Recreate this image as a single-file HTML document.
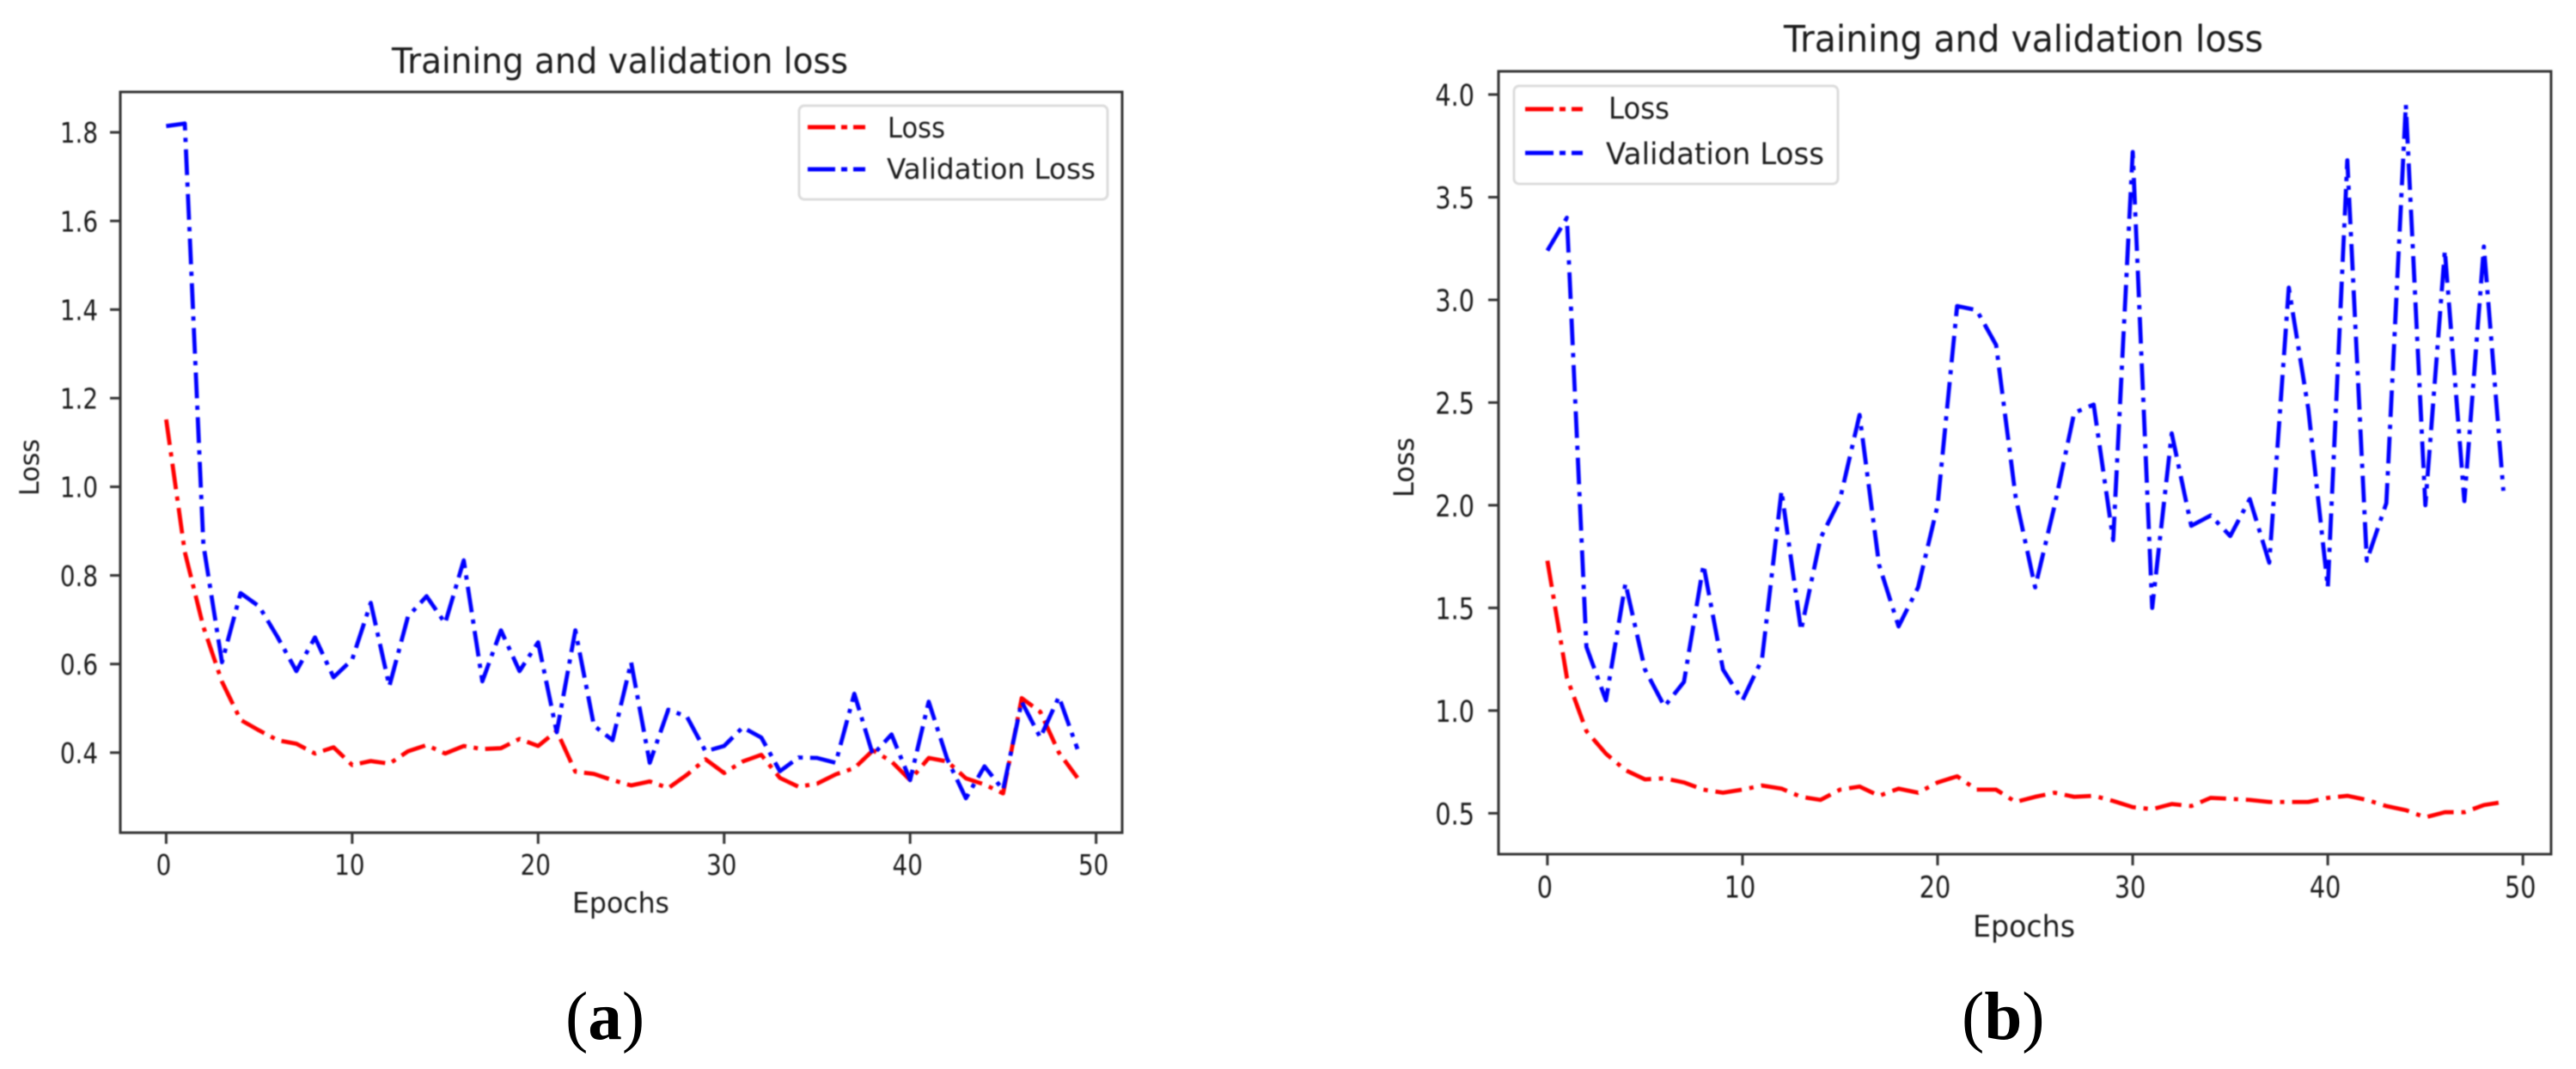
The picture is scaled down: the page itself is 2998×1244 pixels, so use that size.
<!DOCTYPE html>
<html lang="en">
<head>
<meta charset="utf-8">
<title>Training and validation loss</title>
<style>
  html, body { margin: 0; padding: 0; background: #fff; }
  body { width: 2998px; height: 1244px; overflow: hidden; }
  svg { display: block; }
  .soft { filter: blur(0.7px); }
  text { font-family: "DejaVu Sans", "Liberation Sans", sans-serif; fill: #1c1c1c; }
  .cap { font-family: "Liberation Serif", serif; fill: #000; font-size: 79px; }
</style>
</head>
<body>
<svg id="figure" width="2998" height="1244" viewBox="0 0 2998 1244" xmlns="http://www.w3.org/2000/svg">
  <rect x="0" y="0" width="2998" height="1244" fill="#ffffff"/>

  <g id="panel-a" class="soft">
    <rect x="140" y="107" width="1166" height="862" fill="#ffffff" stroke="#333333" stroke-width="3"/>
    <g id="panel-a-ticks"></g>
    <g id="panel-a-series"></g>
    <text x="456" y="85" font-size="41" textLength="531" lengthAdjust="spacingAndGlyphs">Training and validation loss</text>
    <text x="666" y="1062" font-size="33" textLength="113" lengthAdjust="spacingAndGlyphs">Epochs</text>
    <text transform="translate(45,577) rotate(-90)" font-size="31" textLength="66" lengthAdjust="spacingAndGlyphs">Loss</text>
    <g>
      <rect x="930" y="123" width="359" height="109" rx="6" fill="#ffffff" stroke="#dcdcdc" stroke-width="3"/>
      <line x1="940" y1="148" x2="1007" y2="148" stroke="#ff0000" stroke-width="5" stroke-dasharray="32 7 7 7"/>
      <text x="1033" y="160" font-size="33" textLength="67" lengthAdjust="spacingAndGlyphs">Loss</text>
      <line x1="940" y1="197" x2="1007" y2="197" stroke="#0000ff" stroke-width="5" stroke-dasharray="32 7 7 7"/>
      <text x="1032" y="208" font-size="33" textLength="243" lengthAdjust="spacingAndGlyphs">Validation Loss</text>
    </g>
  </g>

  <g id="panel-b" class="soft">
    <rect x="1744" y="83" width="1225" height="911" fill="#ffffff" stroke="#333333" stroke-width="3"/>
    <g id="panel-b-ticks"></g>
    <g id="panel-b-series"></g>
    <text x="2076" y="60" font-size="43" textLength="558" lengthAdjust="spacingAndGlyphs">Training and validation loss</text>
    <text x="2296" y="1090" font-size="35" textLength="119" lengthAdjust="spacingAndGlyphs">Epochs</text>
    <text transform="translate(1645,579) rotate(-90)" font-size="32" textLength="70" lengthAdjust="spacingAndGlyphs">Loss</text>
    <g>
      <rect x="1762" y="100" width="377" height="114" rx="6" fill="#ffffff" stroke="#dcdcdc" stroke-width="3"/>
      <line x1="1775" y1="127" x2="1842" y2="127" stroke="#ff0000" stroke-width="5" stroke-dasharray="33 7 7 7"/>
      <text x="1872" y="138" font-size="35" textLength="71" lengthAdjust="spacingAndGlyphs">Loss</text>
      <line x1="1775" y1="178" x2="1842" y2="178" stroke="#0000ff" stroke-width="5" stroke-dasharray="33 7 7 7"/>
      <text x="1869" y="191" font-size="35" textLength="254" lengthAdjust="spacingAndGlyphs">Validation Loss</text>
    </g>
  </g>

  <text class="cap" x="658" y="1209">(<tspan font-weight="bold">a</tspan>)</text>
  <text class="cap" x="2283" y="1209">(<tspan font-weight="bold">b</tspan>)</text>
</svg>

<script>
const xTickValues = [0, 10, 20, 30, 40, 50];
const yTicksA = [0.4, 0.6, 0.8, 1.0, 1.2, 1.4, 1.6, 1.8];
const yTicksB = [0.5, 1.0, 1.5, 2.0, 2.5, 3.0, 3.5, 4.0];

const lossA = [1.152, 0.853, 0.684, 0.56, 0.474, 0.45, 0.428, 0.42, 0.398, 0.412,
  0.372, 0.381, 0.375, 0.403, 0.417, 0.398, 0.415, 0.408, 0.41, 0.431,
  0.415, 0.449, 0.357, 0.352, 0.338, 0.326, 0.335, 0.32, 0.35, 0.385,
  0.354, 0.38, 0.395, 0.343, 0.323, 0.33, 0.351, 0.365, 0.405, 0.38,
  0.338, 0.388, 0.38, 0.342, 0.328, 0.308, 0.523, 0.492, 0.4, 0.343];
const valLossA = [1.814, 1.82, 0.87, 0.604, 0.76, 0.73, 0.66, 0.584, 0.66, 0.57,
  0.61, 0.738, 0.55, 0.707, 0.753, 0.692, 0.834, 0.561, 0.676, 0.584,
  0.649, 0.446, 0.676, 0.461, 0.428, 0.604, 0.377, 0.497, 0.481, 0.403,
  0.415, 0.457, 0.434, 0.358, 0.389, 0.388, 0.377, 0.533, 0.395, 0.441,
  0.338, 0.515, 0.385, 0.297, 0.369, 0.316, 0.515, 0.434, 0.526, 0.408];
const lossB = [1.73, 1.16, 0.9, 0.79, 0.71, 0.665, 0.67, 0.65, 0.615, 0.6,
  0.615, 0.635, 0.62, 0.58, 0.565, 0.615, 0.63, 0.585, 0.62, 0.6,
  0.65, 0.68, 0.615, 0.615, 0.555, 0.58, 0.6, 0.58, 0.585, 0.56,
  0.53, 0.52, 0.545, 0.535, 0.575, 0.57, 0.565, 0.555, 0.555, 0.555,
  0.575, 0.585, 0.565, 0.535, 0.515, 0.48, 0.505, 0.505, 0.54, 0.555];
const valLossB = [3.24, 3.4, 1.31, 1.05, 1.62, 1.2, 1.02, 1.14, 1.71, 1.2,
  1.05, 1.25, 2.07, 1.39, 1.84, 2.03, 2.44, 1.71, 1.41, 1.6,
  2.0, 2.97, 2.95, 2.78, 2.04, 1.6, 2.0, 2.45, 2.49, 1.83,
  3.72, 1.5, 2.35, 1.9, 1.95, 1.85, 2.03, 1.72, 3.06, 2.47,
  1.6, 3.68, 1.73, 2.01, 3.95, 2.0, 3.24, 2.02, 3.26, 2.07];

const SVG_NS = 'http://www.w3.org/2000/svg';

function xAxisA(epoch) { return 193.4 + epoch * 21.645; }
function yAxisA(value) { return 154 + (1.8 - value) * 515.6; }
function xAxisB(epoch) { return 1800.9 + epoch * 22.706; }
function yAxisB(value) { return 110 + (4 - value) * 238.97; }

function drawTicks(group, prefix, xAxis, yAxis, yTicks, axisBottom, axisLeft, fontSize, xBaseline, yLabelRight, textScale) {
  xTickValues.forEach(function (tick) {
    const mark = document.createElementNS(SVG_NS, 'line');
    
    
    mark.setAttribute('x1', xAxis(tick));
    mark.setAttribute('x2', xAxis(tick));
    mark.setAttribute('y1', axisBottom);
    mark.setAttribute('y2', axisBottom + 13);
    mark.setAttribute('stroke', '#333333');
    mark.setAttribute('stroke-width', 3);
    group.appendChild(mark);

    const label = document.createElementNS(SVG_NS, 'text');
    
    
    label.setAttribute('text-anchor', 'middle');
    label.setAttribute('font-size', fontSize);
    label.setAttribute('transform', 'translate(' + (xAxis(tick) - 3) + ',' + xBaseline + ') scale(' + textScale + ',1)');
    label.textContent = String(tick);
    group.appendChild(label);
  });
  yTicks.forEach(function (tick) {
    const mark = document.createElementNS(SVG_NS, 'line');
    
    
    mark.setAttribute('x1', axisLeft - 12);
    mark.setAttribute('x2', axisLeft);
    mark.setAttribute('y1', yAxis(tick));
    mark.setAttribute('y2', yAxis(tick));
    mark.setAttribute('stroke', '#333333');
    mark.setAttribute('stroke-width', 3);
    group.appendChild(mark);

    const label = document.createElementNS(SVG_NS, 'text');
    
    
    label.setAttribute('text-anchor', 'end');
    label.setAttribute('font-size', fontSize);
    label.setAttribute('transform', 'translate(' + yLabelRight + ',' + (yAxis(tick) + fontSize * 0.37) + ') scale(' + textScale + ',1)');
    label.textContent = tick.toFixed(1);
    group.appendChild(label);
  });
}

function drawSeries(group, seriesName, values, xAxis, yAxis, color, dashPattern, lineWidth) {
  const line = document.createElementNS(SVG_NS, 'polyline');
  
  
  line.setAttribute('points', values.map(function (value, epoch) {
    return xAxis(epoch).toFixed(2) + ',' + yAxis(value).toFixed(2);
  }).join(' '));
  line.setAttribute('fill', 'none');
  line.setAttribute('stroke', color);
  line.setAttribute('stroke-width', lineWidth);
  line.setAttribute('stroke-linejoin', 'round');
  line.setAttribute('stroke-dasharray', dashPattern);
  group.appendChild(line);
}

const ticksGroupA = document.getElementById('panel-a-ticks');
const seriesGroupA = document.getElementById('panel-a-series');
const ticksGroupB = document.getElementById('panel-b-ticks');
const seriesGroupB = document.getElementById('panel-b-series');

drawTicks(ticksGroupA, 'panel-a', xAxisA, yAxisA, yTicksA, 969, 140, 33, 1018, 114, 0.84);
drawSeries(seriesGroupA, 'panel-a-loss-line', lossA, xAxisA, yAxisA, '#ff0000', '30 8.5 5 8.5', 4.8);
drawSeries(seriesGroupA, 'panel-a-validation-loss-line', valLossA, xAxisA, yAxisA, '#0000ff', '30 8.5 5 8.5', 4.8);

drawTicks(ticksGroupB, 'panel-b', xAxisB, yAxisB, yTicksB, 994, 1744, 35, 1044.5, 1716, 0.82);
drawSeries(seriesGroupB, 'panel-b-loss-line', lossB, xAxisB, yAxisB, '#ff0000', '31 9 5 9', 4.8);
drawSeries(seriesGroupB, 'panel-b-validation-loss-line', valLossB, xAxisB, yAxisB, '#0000ff', '31 9 5 9', 4.8);
</script>
</body>
</html>
